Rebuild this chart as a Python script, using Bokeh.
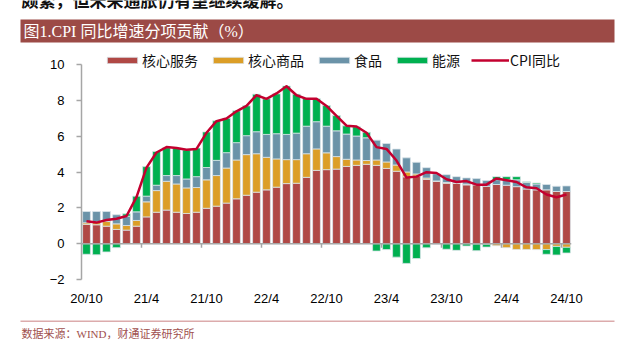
from bokeh.plotting import figure
from bokeh.models import Range1d, FixedTicker, Span, Legend, LegendItem
from bokeh.embed import file_html
from bokeh.resources import INLINE
from bokeh.core.properties import value

# ---------------- data ----------------
months = ["20/10", "20/11", "20/12", "21/1", "21/2", "21/3",
          "21/4", "21/5", "21/6", "21/7", "21/8", "21/9",
          "21/10", "21/11", "21/12", "22/1", "22/2", "22/3",
          "22/4", "22/5", "22/6", "22/7", "22/8", "22/9",
          "22/10", "22/11", "22/12", "23/1", "23/2", "23/3",
          "23/4", "23/5", "23/6", "23/7", "23/8", "23/9",
          "23/10", "23/11", "23/12", "24/1", "24/2", "24/3",
          "24/4", "24/5", "24/6", "24/7", "24/8", "24/9",
          "24/10"]

core_services = [1.08, 1.06, 0.98, 0.80, 0.76, 0.98,
                 1.50, 1.76, 1.88, 1.76, 1.69, 1.76,
                 1.98, 2.10, 2.27, 2.51, 2.71, 2.88,
                 3.01, 3.16, 3.36, 3.38, 3.71, 4.10,
                 4.14, 4.17, 4.32, 4.38, 4.44, 4.38,
                 4.21, 4.05, 3.74, 3.78, 3.60, 3.49,
                 3.38, 3.38, 3.29, 3.29, 3.21, 3.31,
                 3.27, 3.19, 3.06, 3.01, 3.01, 2.92,
                 2.92]

core_goods = [0.09, 0.16, 0.26, 0.31, 0.26, 0.32,
              0.84, 1.21, 1.61, 1.58, 1.43, 1.38,
              1.59, 1.71, 1.96, 2.17, 2.27, 2.15,
              1.82, 1.58, 1.34, 1.32, 1.32, 1.20,
              0.94, 0.70, 0.40, 0.30, 0.21, 0.30,
              0.36, 0.35, 0.27, 0.12, 0.07, 0.02,
              0.04, 0.02, 0.04, -0.02, -0.03, -0.11,
              -0.22, -0.32, -0.32, -0.33, -0.33, -0.15,
              -0.20]

food = [0.63, 0.58, 0.56, 0.51, 0.52, 0.48,
        0.32, 0.30, 0.32, 0.47, 0.50, 0.61,
        0.69, 0.85, 0.86, 0.97, 1.06, 1.23,
        1.28, 1.41, 1.41, 1.48, 1.54, 1.52,
        1.49, 1.44, 1.41, 1.34, 1.27, 1.11,
        1.03, 0.89, 0.79, 0.65, 0.58, 0.40,
        0.44, 0.35, 0.35, 0.35, 0.32, 0.27,
        0.30, 0.38, 0.36, 0.33, 0.30, 0.29,
        0.31]

energy = [-0.59, -0.62, -0.46, -0.22, 0.13, 0.88,
          1.65, 1.89, 1.56, 1.52, 1.62, 1.60,
          1.99, 2.21, 1.93, 1.78, 1.67, 2.10,
          1.99, 2.23, 2.71, 2.18, 1.55, 1.29,
          1.15, 0.85, 0.46, 0.52, 0.31, -0.41,
          -0.33, -0.75, -1.10, -0.83, -0.23, -0.02,
          -0.31, -0.37, -0.13, -0.37, -0.16, 0.17,
          0.18, 0.18, 0.05, 0.06, -0.26, -0.48,
          -0.32]

cpi_yoy = [1.25, 1.18, 1.33, 1.40, 1.55, 2.60,
           4.25, 5.10, 5.40, 5.35, 5.25, 5.30,
           6.20, 6.85, 7.00, 7.40, 7.70, 8.30,
           8.10, 8.40, 8.80, 8.30, 8.10, 8.10,
           7.70, 7.15, 6.60, 6.55, 6.20, 5.40,
           5.30, 4.65, 3.70, 3.75, 4.00, 3.95,
           3.60, 3.45, 3.50, 3.30, 3.30, 3.65,
           3.55, 3.45, 3.15, 3.10, 2.75, 2.60,
           2.75]

series_names = ["核心服务", "核心商品", "食品", "能源"]
line_name = "CPI同比"
x_tick_labels = ["20/10", "21/4", "21/10", "22/4", "22/10", "23/4", "23/10", "24/4", "24/10"]
y_ticks = [-2, 0, 2, 4, 6, 8, 10]

title_text = "图1.CPI 同比增速分项贡献（%）"
top_text = "颇繁，但未来通胀仍有望继续缓解。"
source_text = "数据来源：WIND，财通证券研究所"

# ---------------- styles ----------------
colors = ["#B04845", "#DC9E27", "#6B93A8", "#00B050"]
line_color = "#C3002F"
axis_grey = "#A6A6A6"
cjk = "Noto Sans CJK SC"
latin = "Liberation Sans"
W = 630

# ---------------- header ----------------
head = figure(width=W, height=50, x_range=Range1d(0, W), y_range=Range1d(50, 0),
              output_backend="svg", toolbar_location=None,
              x_axis_type=None, y_axis_type=None, min_border=0)
head.outline_line_color = None
head.grid.visible = False
head.text(x=[21], y=[-1], text=[top_text], text_font=value(cjk), text_font_size="17px",
          text_font_style="bold", text_color="#111111", text_baseline="middle")
head.quad(left=[20], right=[614], top=[19], bottom=[42], fill_color="#9C4A46", line_color=None)
head.text(x=[23], y=[31], text=[title_text], text_font=value("'Liberation Serif', 'Noto Sans CJK SC'"),
          text_font_size="16px", text_color="white", text_baseline="middle")

# ---------------- main chart ----------------
n = len(months)
xs = list(range(n))
y_top = y_ticks[-1] + 0.8   # headroom above the top tick for the legend row
p = figure(width=W, height=270, x_range=Range1d(-0.5, n - 0.5), y_range=Range1d(y_ticks[0], y_top),
           output_backend="svg", toolbar_location=None,
           min_border_left=81, min_border_right=59, min_border_top=0, min_border_bottom=41)
p.outline_line_color = None
p.grid.visible = False

pos = [0.0] * n
neg = [0.0] * n
bar_renderers = []
for name, vals, col in zip(series_names, [core_services, core_goods, food, energy], colors):
    bottoms, tops = [], []
    for i, v in enumerate(vals):
        if v >= 0:
            bottoms.append(pos[i]); tops.append(pos[i] + v); pos[i] += v
        else:
            tops.append(neg[i]); bottoms.append(neg[i] + v); neg[i] += v
    r = p.vbar(x=xs, bottom=bottoms, top=tops, width=0.78, fill_color=col,
               line_color="#dbe4ea", line_width=0.8)
    bar_renderers.append(r)

# zero axis line with category-boundary ticks
p.add_layout(Span(location=0, dimension="width", line_color=axis_grey, line_width=1.5))
label_pos = [months.index(m) for m in x_tick_labels]
bounds = [k - 0.5 for k in label_pos[1:]]
p.segment(x0=bounds, y0=[0] * len(bounds), x1=bounds, y1=[-0.22] * len(bounds),
          line_color=axis_grey, line_width=1.5)

lr = p.line(xs, cpi_yoy, line_color=line_color, line_width=2.5, line_join="round")

# axes
p.yaxis.ticker = FixedTicker(ticks=y_ticks)
p.yaxis.bounds = (y_ticks[0], y_ticks[-1])
p.yaxis.axis_line_color = axis_grey
p.yaxis.axis_line_width = 1.5
p.yaxis.major_tick_line_color = axis_grey
p.yaxis.major_tick_line_width = 1.5
p.yaxis.major_tick_out = 5
p.yaxis.major_tick_in = 0
p.yaxis.minor_tick_line_color = None
p.yaxis.major_label_text_font = latin
p.yaxis.major_label_text_font_size = "13px"
p.yaxis.major_label_text_color = "#000000"
p.yaxis.major_label_standoff = 12

p.xaxis.ticker = FixedTicker(ticks=label_pos)
p.xaxis.major_label_overrides = {k: m for k, m in zip(label_pos, x_tick_labels)}
p.xaxis.axis_line_color = None
p.xaxis.major_tick_line_color = None
p.xaxis.minor_tick_line_color = None
p.xaxis.major_label_text_font = latin
p.xaxis.major_label_text_font_size = "13px"
p.xaxis.major_label_text_color = "#000000"
p.xaxis.major_label_standoff = 5

items = [LegendItem(label=nm, renderers=[r]) for nm, r in zip(series_names, bar_renderers)]
items.append(LegendItem(label=line_name, renderers=[lr]))
legend = Legend(items=items, orientation="horizontal", location=(22, 209),
                glyph_width=38, glyph_height=8, label_standoff=1, spacing=11,
                padding=0, margin=0, border_line_color=None, background_fill_alpha=0,
                label_text_font=cjk, label_text_font_size="14px", label_height=14,
                label_text_color="#111111")
p.add_layout(legend)

# ---------------- footer ----------------
foot = figure(width=W, height=32, x_range=Range1d(0, W), y_range=Range1d(32, 0),
              output_backend="svg", toolbar_location=None,
              x_axis_type=None, y_axis_type=None, min_border=0)
foot.outline_line_color = None
foot.grid.visible = False
foot.segment(x0=[20], y0=[0.5], x1=[614], y1=[0.5], line_color="#B9585A", line_width=1)
foot.text(x=[21], y=[13], text=[source_text], text_font=value("'Liberation Serif', 'Noto Sans CJK SC'"),
          text_font_size="11px", text_color="#A0504E", text_baseline="middle")

open("out.html", "w").write(file_html([head, p, foot], INLINE))
